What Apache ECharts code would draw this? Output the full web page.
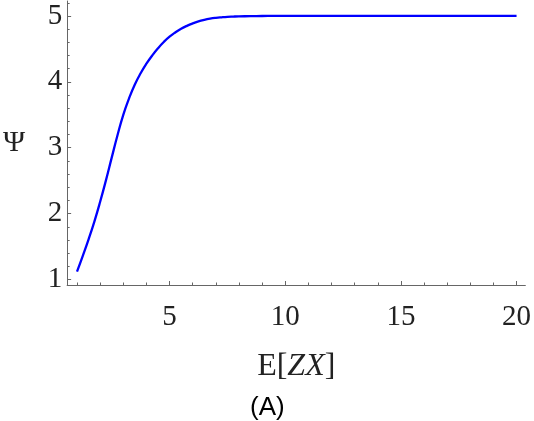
<!DOCTYPE html>
<html>
<head>
<meta charset="utf-8">
<script src="https://cdn.jsdelivr.net/npm/echarts@6/dist/echarts.min.js"></script>
<style>html,body{margin:0;padding:0;background:#fff}#c{width:534px;height:421px}</style>
</head>
<body>
<div id="c"></div>
<script>
// Data
const xValues   = [1, 1.25, 1.5, 1.75, 2, 2.25, 2.5, 2.75, 3, 3.25, 3.5, 3.75, 4, 4.25, 4.5, 4.75, 5, 5.25, 5.5, 5.75, 6, 6.25, 6.5, 6.75, 7, 7.25, 7.5, 7.75, 8, 8.5, 9, 9.5, 10, 11, 12, 13, 14, 15, 16, 17, 18, 19, 20];
const psiValues = [1.12, 1.36, 1.61, 1.88, 2.18, 2.505, 2.85, 3.19, 3.50, 3.75, 3.96, 4.13, 4.275, 4.40, 4.51, 4.605, 4.685, 4.75, 4.805, 4.85, 4.887, 4.917, 4.94, 4.958, 4.971, 4.98, 4.987, 4.991, 4.994, 4.997, 4.999, 5, 5, 5, 5, 5, 5, 5, 5, 5, 5, 5, 5];
const xMajorTicks = [5, 10, 15, 20];
const xMinorTicks = [1, 2, 3, 4, 6, 7, 8, 9, 11, 12, 13, 14, 16, 17, 18, 19];
const yMajorTicks = [1, 2, 3, 4, 5];
const yMinorTicks = [1.2, 1.4, 1.6, 1.8, 2.2, 2.4, 2.6, 2.8, 3.2, 3.4, 3.6, 3.8, 4.2, 4.4, 4.6, 4.8, 5.2];

const seriesData = xValues.map((x, i) => [x, psiValues[i]]);
const axisColor = '#666666';
const serif = '"Liberation Serif", "DejaVu Serif", serif';

const chart = echarts.init(document.getElementById('c'), null, {renderer: 'canvas'});
chart.setOption({
  animation: false,
  backgroundColor: '#ffffff',
  title: {
    text: '(A)',
    left: 245, top: 390,
    textStyle: {fontFamily: '"Liberation Sans", Arial, sans-serif', fontWeight: 'normal', fontSize: 26, color: '#000'}
  },
  grid: {left: 64, right: 6, top: 1, bottom: 136, containLabel: false},
  xAxis: [{
    type: 'value', min: 0.573, max: 20.38,
    name: '{n|E}{b|[}{i|ZX}{b|]}',
    nameLocation: 'middle', nameGap: 66,
    nameTextStyle: {
      rich: {
        n: {fontFamily: serif, fontSize: 32, color: '#222'},
        b: {fontFamily: serif, fontSize: 32, color: '#222'},
        i: {fontFamily: serif, fontSize: 32, fontStyle: 'italic', color: '#222'}
      }
    },
    splitLine: {show: false},
    axisLine: {show: true, onZero: false, lineStyle: {color: axisColor, width: 1}},
    axisTick: {show: true, inside: true, length: 4, customValues: xMajorTicks, lineStyle: {color: axisColor}},
    axisLabel: {show: true, customValues: xMajorTicks, margin: 18, fontFamily: serif, fontSize: 29, color: '#222'}
  }, {
    type: 'value', min: 0.573, max: 20.38, position: 'bottom',
    splitLine: {show: false},
    axisLine: {show: false},
    axisTick: {show: true, inside: true, length: 2.5, customValues: xMinorTicks, lineStyle: {color: axisColor}},
    axisLabel: {show: false}
  }],
  yAxis: [{
    type: 'value', min: 0.917, max: 5.227,
    name: 'Ψ', nameLocation: 'middle', nameRotate: 0, nameGap: 42,
    nameTextStyle: {fontFamily: serif, fontSize: 30, color: '#222'},
    splitLine: {show: false},
    axisLine: {show: true, onZero: false, lineStyle: {color: axisColor, width: 1}},
    axisTick: {show: true, inside: true, length: 4, customValues: yMajorTicks, lineStyle: {color: axisColor}},
    axisLabel: {show: true, customValues: yMajorTicks, margin: 5, padding: [6, 0, 0, 0], fontFamily: serif, fontSize: 29, color: '#222'}
  }, {
    type: 'value', min: 0.917, max: 5.227, position: 'left',
    splitLine: {show: false},
    axisLine: {show: false},
    axisTick: {show: true, inside: true, length: 2.5, customValues: yMinorTicks, lineStyle: {color: axisColor}},
    axisLabel: {show: false}
  }],
  series: [{
    type: 'line', xAxisIndex: 0, yAxisIndex: 0,
    data: seriesData,
    showSymbol: false, smooth: 0.5,
    lineStyle: {color: '#0000ff', width: 2.3},
    itemStyle: {color: '#0000ff'}
  }]
});
</script>
</body>
</html>
